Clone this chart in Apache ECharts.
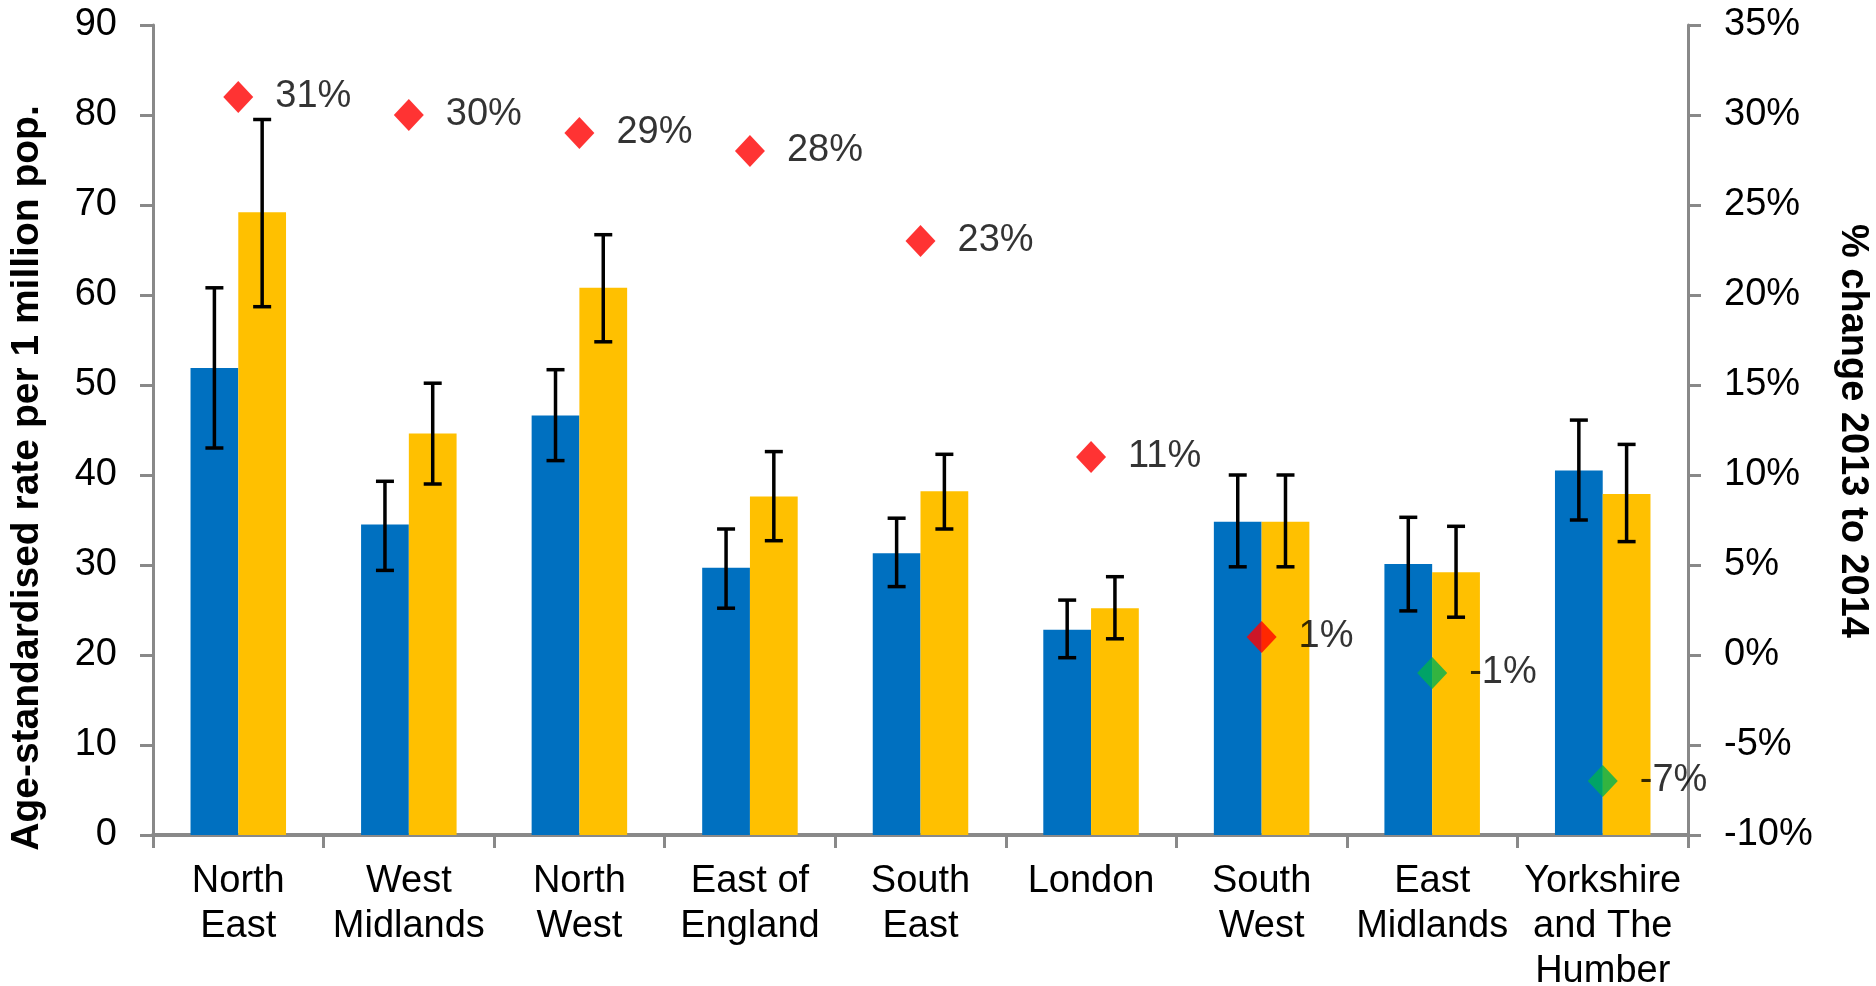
<!DOCTYPE html>
<html>
<head>
<meta charset="utf-8">
<script src="https://cdn.jsdelivr.net/npm/echarts@6/dist/echarts.min.js"></script>
<style>
  html, body { margin: 0; padding: 0; background: #fff; }
  #chart { width: 1876px; height: 986px; }
</style>
</head>
<body>
<div id="chart"></div>
<script>
// Regions of England, ordered by % change
const regions = ['North\nEast', 'West\nMidlands', 'North\nWest', 'East of\nEngland', 'South\nEast',
                 'London', 'South\nWest', 'East\nMidlands', 'Yorkshire\nand The\nHumber'];

// Age-standardised rate per 1 million population
const rate2013 = [51.9, 34.5, 46.6, 29.7, 31.3, 22.8, 34.8, 30.1, 40.5];
const rate2014 = [69.2, 44.6, 60.8, 37.6, 38.2, 25.2, 34.8, 29.2, 37.9];

// 95% confidence intervals
const ci2013Low  = [43.0, 29.4, 41.6, 25.2, 27.6, 19.7, 29.8, 24.9, 35.0];
const ci2013High = [60.8, 39.3, 51.7, 34.0, 35.2, 26.1, 40.0, 35.3, 46.1];
const ci2014Low  = [58.7, 39.0, 54.8, 32.7, 34.0, 21.8, 29.8, 24.2, 32.6];
const ci2014High = [79.5, 50.2, 66.7, 42.6, 42.3, 28.7, 40.0, 34.3, 43.4];

// % change 2013 to 2014
const pctChange = [31, 30, 29, 28, 23, 11, 1, -1, -7];

// Left and right axis ticks
const rateTicks = { min: 0, max: 90, interval: 10 };
const pctTicks = { min: -10, max: 35, interval: 5 };

const FONT = "'Liberation Sans', Arial, sans-serif";
const AXIS_GREY = '#898989';
const BLUE = '#0070C0';
const GOLD = '#FFC000';
const RED = '#FF0000';
const GREEN = '#00B050';

const CAT_GAP = 0.44;                // share of each band left empty
const BAR_SHARE = (1 - CAT_GAP) / 2; // width of one bar as a share of the band

function errorBars(low, high, side) {
  return {
    type: 'custom',
    xAxisIndex: 0,
    yAxisIndex: 0,
    z: 5,
    silent: true,
    data: low.map((l, i) => [i, l, high[i]]),
    renderItem: function (params, api) {
      const idx = api.value(0);
      const band = api.size([1, 0])[0];
      const offset = side * band * BAR_SHARE / 2;
      const lo = api.coord([idx, api.value(1)]);
      const hi = api.coord([idx, api.value(2)]);
      const x = lo[0] + offset;
      const cap = 9;
      const style = { stroke: '#000', lineWidth: 3.5 };
      return {
        type: 'group',
        children: [
          { type: 'line', shape: { x1: x, y1: hi[1], x2: x, y2: lo[1] }, style: style },
          { type: 'line', shape: { x1: x - cap, y1: hi[1], x2: x + cap, y2: hi[1] }, style: style },
          { type: 'line', shape: { x1: x - cap, y1: lo[1], x2: x + cap, y2: lo[1] }, style: style }
        ]
      };
    }
  };
}

const chart = echarts.init(document.getElementById('chart'));

chart.setOption({
  animation: false,
  textStyle: { fontFamily: FONT },
  grid: {
    left: 153, right: 188, top: 25, bottom: 151,
    containLabel: false,
    outerBoundsMode: 'none'
  },
  xAxis: {
    type: 'category',
    data: regions,
    axisLine: { lineStyle: { color: AXIS_GREY, width: 4 } },
    axisTick: { show: true, length: 13, lineStyle: { color: AXIS_GREY, width: 3 } },
    axisLabel: {
      interval: 0,
      margin: 24,
      fontSize: 38,
      lineHeight: 45,
      color: '#000',
      fontFamily: FONT
    }
  },
  yAxis: [
    {
      type: 'value',
      position: 'left',
      min: rateTicks.min, max: rateTicks.max, interval: rateTicks.interval,
      axisLine: { show: true, lineStyle: { color: AXIS_GREY, width: 3 } },
      axisTick: { show: true, length: 13, lineStyle: { color: AXIS_GREY, width: 3 } },
      splitLine: { show: false },
      axisLabel: { fontSize: 38, color: '#000', margin: 36, fontFamily: FONT }
    },
    {
      type: 'value',
      position: 'right',
      min: pctTicks.min, max: pctTicks.max, interval: pctTicks.interval,
      axisLine: { show: true, lineStyle: { color: AXIS_GREY, width: 3 } },
      axisTick: { show: true, length: 13, lineStyle: { color: AXIS_GREY, width: 3 } },
      splitLine: { show: false },
      axisLabel: { fontSize: 38, color: '#000', margin: 36, formatter: '{value}%', fontFamily: FONT }
    }
  ],
  graphic: [
    {
      type: 'text',
      x: 27, y: 478,
      rotation: Math.PI / 2,
      style: {
        text: 'Age-standardised rate per 1 million pop.',
        font: 'bold 39px ' + FONT,
        fill: '#000',
        align: 'center',
        verticalAlign: 'middle'
      }
    },
    {
      type: 'text',
      x: 1852, y: 431,
      rotation: -Math.PI / 2,
      style: {
        text: '% change 2013 to 2014',
        font: 'bold 38px ' + FONT,
        fill: '#000',
        align: 'center',
        verticalAlign: 'middle'
      }
    }
  ],
  series: [
    {
      name: '2013',
      type: 'bar',
      data: rate2013,
      barGap: '0%',
      barCategoryGap: (CAT_GAP * 100) + '%',
      itemStyle: { color: BLUE },
      z: 2
    },
    {
      name: '2014',
      type: 'bar',
      data: rate2014,
      barGap: '0%',
      barCategoryGap: (CAT_GAP * 100) + '%',
      itemStyle: { color: GOLD },
      z: 2
    },
    errorBars(ci2013Low, ci2013High, -1),
    errorBars(ci2014Low, ci2014High, 1),
    {
      name: '% change',
      type: 'scatter',
      yAxisIndex: 1,
      symbol: 'diamond',
      symbolSize: [30, 32],
      z: 10,
      data: pctChange.map(v => ({
        value: v,
        itemStyle: { color: v >= 0 ? RED : GREEN }
      })),
      label: {
        show: true,
        position: 'right',
        distance: 22,
        formatter: p => p.value + '%',
        fontSize: 38,
        color: '#000',
        fontFamily: FONT
      }
    }
  ]
});
</script>
</body>
</html>
